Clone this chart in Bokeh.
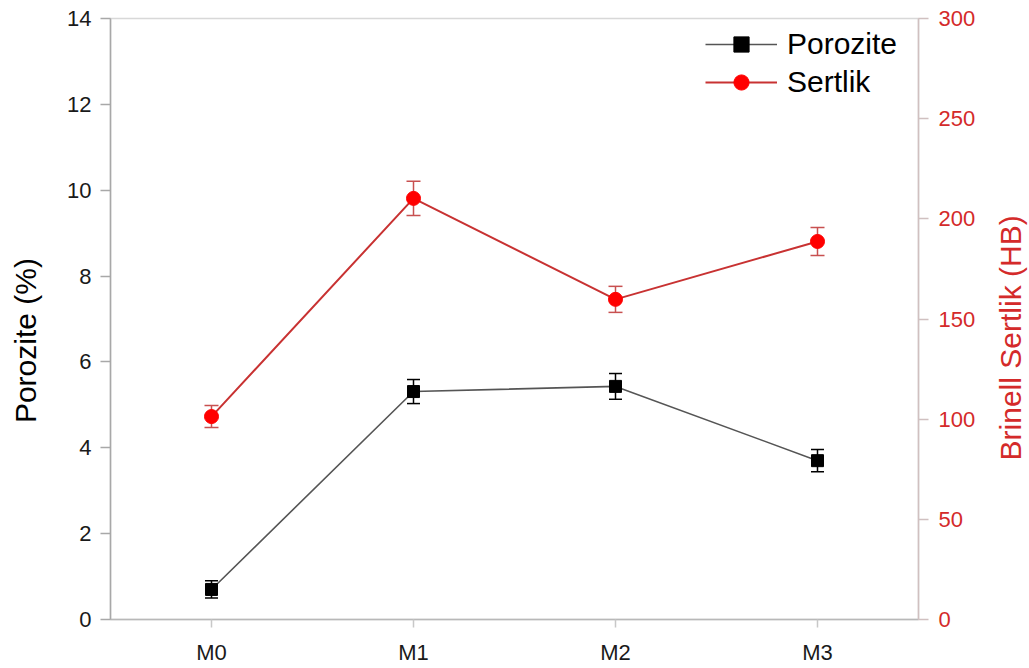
import math
from bokeh.plotting import figure
from bokeh.layouts import row
from bokeh.models import (FactorRange, Range1d, LinearAxis, ColumnDataSource, Whisker,
                          TeeHead, Legend, LegendItem, FixedTicker)
from bokeh.core.properties import value
from bokeh.embed import file_html
from bokeh.resources import INLINE

samples = ["M0", "M1", "M2", "M3"]
porosity = [0.70, 5.31, 5.43, 3.70]
porosity_err = [0.20, 0.28, 0.30, 0.26]
hardness = [101.3, 210.2, 159.8, 188.7]
hardness_err = [5.5, 8.5, 6.5, 7.0]
left_title = "Porozite (%)"
right_title = "Brinell Sertlik (HB)"

FONT = "Liberation Sans"
RED_TXT = "#d42a2a"
H = 668
SIDE_W = 45


def title_strip(text, color, cx, cy):
    f = figure(width=SIDE_W, height=H, x_range=Range1d(0, SIDE_W), y_range=Range1d(H, 0),
               output_backend="svg", toolbar_location=None,
               min_border_left=0, min_border_right=0, min_border_top=0, min_border_bottom=0)
    f.axis.visible = False
    f.grid.visible = False
    f.outline_line_color = None
    f.text(x=[cx], y=[cy], text=[text], angle=math.pi / 2, text_font=value(FONT),
           text_font_size="30px", text_color=color, text_align="center", text_baseline="middle")
    return f


p = figure(width=939, height=H, x_range=FactorRange(factors=samples, range_padding=0),
           y_range=Range1d(0, 14), output_backend="svg", toolbar_location=None,
           min_border_left=65, min_border_right=66, min_border_top=18, min_border_bottom=49)
p.extra_y_ranges = {"hb": Range1d(0, 300)}

p.grid.visible = False
p.outline_line_color = "#d8d8d8"
p.outline_line_width = 1.5
p.background_fill_color = "white"
p.border_fill_color = "white"

# left axis
ya = p.yaxis[0]
ya.ticker = FixedTicker(ticks=[0, 2, 4, 6, 8, 10, 12, 14])
ya.major_label_text_font = FONT
ya.major_label_text_font_size = "22px"
ya.major_label_text_color = "#1a1a1a"
ya.major_label_standoff = 9
ya.axis_line_color = "#a8a8a8"
ya.axis_line_width = 1.5
ya.major_tick_line_color = "#a8a8a8"
ya.major_tick_line_width = 1.5
ya.major_tick_in = 0
ya.major_tick_out = 10
ya.minor_tick_line_color = None

# bottom axis
xa = p.xaxis[0]
xa.major_label_text_font = FONT
xa.major_label_text_font_size = "22px"
xa.major_label_text_color = "#1a1a1a"
xa.major_label_standoff = 12
xa.axis_line_color = "#b8b8b8"
xa.axis_line_width = 1.5
xa.major_tick_line_color = "#c8c8c8"
xa.major_tick_line_width = 1.5
xa.major_tick_in = 0
xa.major_tick_out = 8

# right axis
ra = LinearAxis(y_range_name="hb", ticker=FixedTicker(ticks=[0, 50, 100, 150, 200, 250, 300]))
ra.major_label_text_font = FONT
ra.major_label_text_font_size = "22px"
ra.major_label_text_color = RED_TXT
ra.major_label_standoff = 10
ra.axis_line_color = "#d0c0c0"
ra.axis_line_width = 1.5
ra.major_tick_line_color = "#d0c0c0"
ra.major_tick_line_width = 1.5
ra.major_tick_in = 0
ra.major_tick_out = 10
ra.minor_tick_line_color = None
p.add_layout(ra, "right")

src_p = ColumnDataSource(dict(x=samples, y=porosity,
                              lo=[v - e for v, e in zip(porosity, porosity_err)],
                              hi=[v + e for v, e in zip(porosity, porosity_err)]))
src_h = ColumnDataSource(dict(x=samples, y=hardness,
                              lo=[v - e for v, e in zip(hardness, hardness_err)],
                              hi=[v + e for v, e in zip(hardness, hardness_err)]))

# porosity
lp = p.line("x", "y", source=src_p, line_color="#555555", line_width=1.6)
wp = Whisker(source=src_p, base="x", lower="lo", upper="hi", line_color="black", line_width=1.5,
             upper_head=TeeHead(size=13, line_color="black", line_width=1.5),
             lower_head=TeeHead(size=13, line_color="black", line_width=1.5))
p.add_layout(wp)
sp = p.scatter("x", "y", source=src_p, marker="square", size=12, fill_color="black", line_color="black")

# hardness
lh = p.line("x", "y", source=src_h, y_range_name="hb", line_color="#c83232", line_width=2)
wh = Whisker(source=src_h, base="x", lower="lo", upper="hi", y_range_name="hb",
             line_color="#c85050", line_width=1.5,
             upper_head=TeeHead(size=14, line_color="#c85050", line_width=1.5),
             lower_head=TeeHead(size=14, line_color="#c85050", line_width=1.5))
p.add_layout(wh)
sh = p.scatter("x", "y", source=src_h, y_range_name="hb", marker="circle", size=14,
               fill_color="#ff0000", line_color="#ff0000")

legend = Legend(items=[LegendItem(label="Porozite", renderers=[lp, sp]),
                       LegendItem(label="Sertlik", renderers=[lh, sh])],
                location=(595, 518), padding=0, spacing=0, margin=0,
                glyph_width=72, glyph_height=38, label_height=38, label_standoff=10,
                label_text_font=FONT, label_text_font_size="30px", label_text_color="black",
                border_line_color=None, background_fill_alpha=0)
p.add_layout(legend)

left_strip = title_strip(left_title, "black", 25, 358)
right_strip = title_strip(right_title, RED_TXT, 26, 355)

layout = row(left_strip, p, right_strip, spacing=0)
open("out.html", "w").write(file_html(layout, INLINE))
